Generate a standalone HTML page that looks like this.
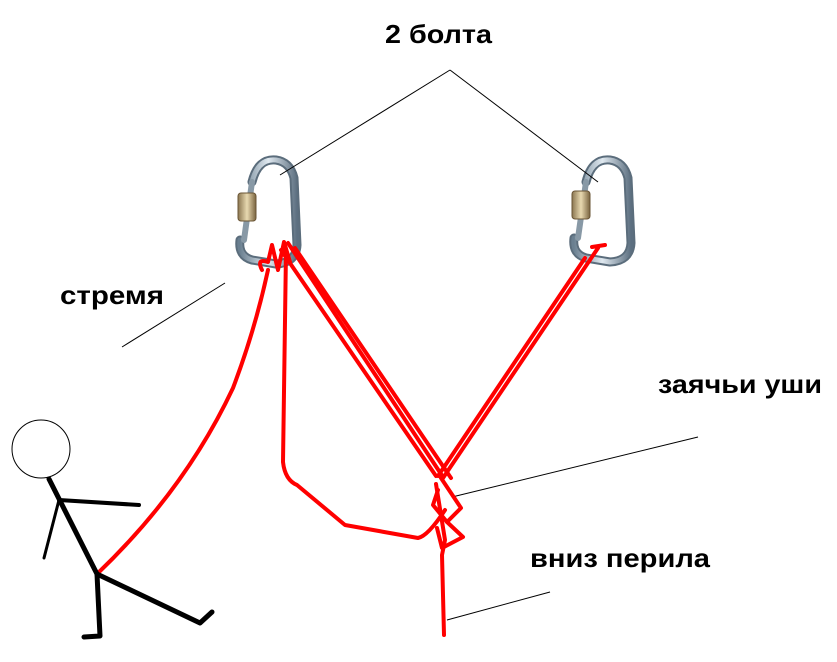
<!DOCTYPE html>
<html><head><meta charset="utf-8"><style>
html,body{margin:0;padding:0;background:#fff;}
svg{display:block;}
text{font-family:"Liberation Sans",sans-serif;font-weight:bold;font-size:26px;fill:#000;}
</style></head><body>
<svg width="837" height="662" viewBox="0 0 837 662" xmlns="http://www.w3.org/2000/svg">
<defs>
<linearGradient id="m" x1="0" x2="1" y1="0" y2="0">
<stop offset="0" stop-color="#6a7f90"/><stop offset="0.5" stop-color="#dfe8ef"/><stop offset="1" stop-color="#5c6f80"/>
</linearGradient>
<linearGradient id="g" x1="0" x2="1"><stop offset="0" stop-color="#8a7550"/><stop offset="0.5" stop-color="#e8d9b0"/><stop offset="1" stop-color="#7a6440"/></linearGradient>
</defs>
<g fill="none" stroke-linecap="round" stroke-linejoin="round">
<path d="M252,182 Q258,158 276,160 Q290,162 294,178 L297,245 Q296,263 276,264 L252,260 Q238,256 240,240" stroke="#5b6d7c" stroke-width="9"/>
<path d="M252,182 Q258,158 276,160 Q290,162 294,178 L297,245 Q296,263 276,264 L252,260 Q238,256 240,240" stroke="url(#m)" stroke-width="5"/>
<path d="M586,182 Q592,158 610,160 Q624,162 628,178 L631,243 Q630,261 610,262 L586,258 Q572,254 574,238" stroke="#5b6d7c" stroke-width="9"/>
<path d="M586,182 Q592,158 610,160 Q624,162 628,178 L631,243 Q630,261 610,262 L586,258 Q572,254 574,238" stroke="url(#m)" stroke-width="5"/>
<path d="M252,182 L244,240" stroke="#8899a6" stroke-width="6"/>
<path d="M586,182 L578,238" stroke="#8899a6" stroke-width="6"/>
</g>
<rect x="238" y="193" width="18" height="28" rx="3" fill="url(#g)" stroke="#6a5535" stroke-width="1"/>
<rect x="572" y="191" width="18" height="28" rx="3" fill="url(#g)" stroke="#6a5535" stroke-width="1"/>
<g stroke="#000" stroke-width="1" fill="none">
<path d="M450,70 L280,175"/><path d="M450,70 L598,182"/>
<path d="M225,283 L122,347"/>
<path d="M698,437 L452,497"/>
<path d="M550,592 L447,620"/>
</g>
<g fill="none" stroke="#ff0000" stroke-width="4" stroke-linecap="round" stroke-linejoin="round">
<path d="M97,574 Q185,490 233,388 Q255,330 268,270"/>
<path d="M262,270 Q256,258 268,262 L272,245 L278,270 L284,242 L290,262"/>
<path d="M286,250 L283,462 Q285,480 297,485 L345,525 L418,538 Q428,536 445,510"/>
<path d="M288,243 L443,477"/>
<path d="M295,248 L451,478"/>
<path d="M281,250 L436,476"/>
<path d="M598,248 L443,478"/>
<path d="M585,258 L438,476"/>
<path d="M592,247 L605,245"/>
<path d="M436,484 L445,540 L442,555 L444,635"/>
<path d="M441,478 L461,508 L447,522 L433,505 L438,490"/>
<path d="M447,522 L463,537 L442,548 L437,528"/>
</g>
<circle cx="41" cy="449" r="29" fill="none" stroke="#000" stroke-width="1"/>
<g stroke="#000" fill="none" stroke-linecap="round" stroke-linejoin="round">
<path d="M49,479 L97,574" stroke-width="5"/>
<path d="M59,500 L139,505" stroke-width="4"/>
<path d="M59,500 L44,558" stroke-width="3"/>
<path d="M97,574 L100,636 L84,637" stroke-width="5"/>
<path d="M97,574 L200,623 L212,612" stroke-width="5"/>
</g>
<text x="385" y="43" textLength="107" lengthAdjust="spacingAndGlyphs">2 болта</text>
<text x="60" y="304" textLength="104" lengthAdjust="spacingAndGlyphs">стремя</text>
<text x="658" y="393" textLength="164" lengthAdjust="spacingAndGlyphs">заячьи уши</text>
<text x="530" y="567" textLength="180" lengthAdjust="spacingAndGlyphs">вниз перила</text>
</svg>
</body></html>
